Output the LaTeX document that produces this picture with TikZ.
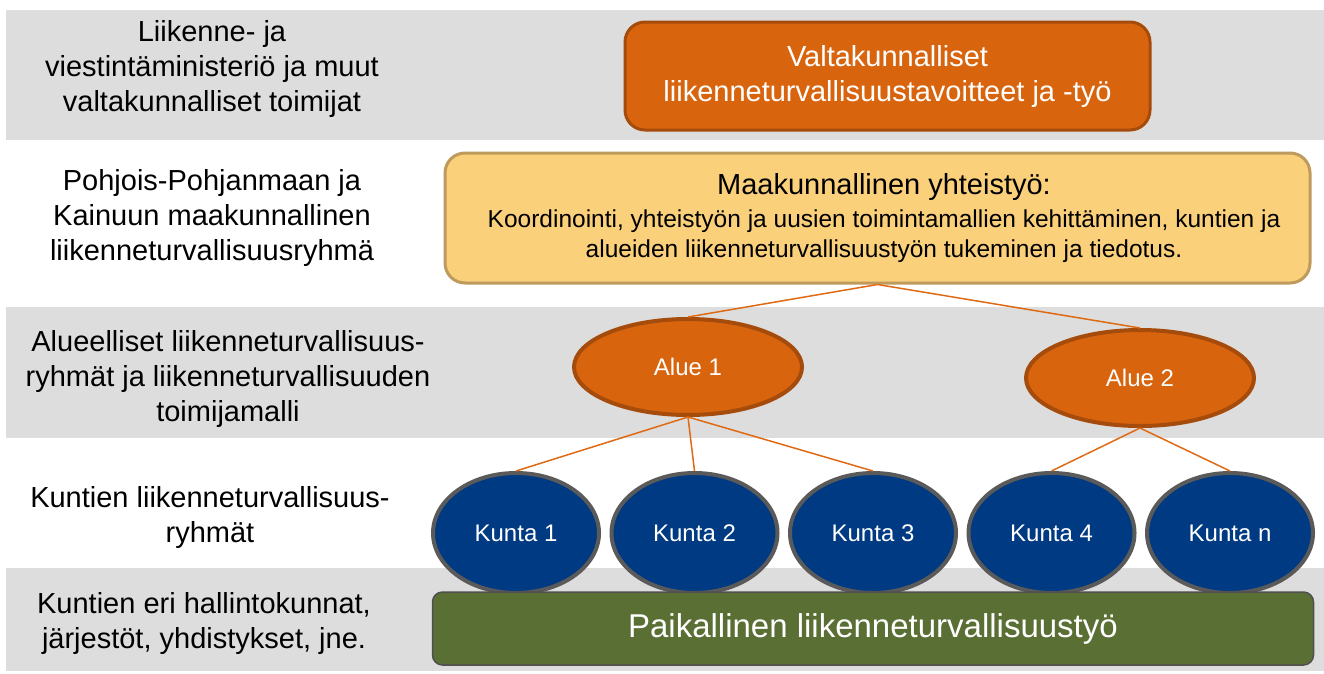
\documentclass[tikz,border=0pt]{standalone}
\usepackage{fontspec}
\setmainfont{Liberation Sans}
\usetikzlibrary{shapes.geometric}
\definecolor{bandgray}{HTML}{DDDDDD}
\definecolor{orfill}{HTML}{D9640E}
\definecolor{ordraw}{HTML}{A54B0C}
\definecolor{yelfill}{HTML}{FAD07B}
\definecolor{yeldraw}{HTML}{BE9A5C}
\definecolor{navy}{HTML}{003A82}
\definecolor{navydraw}{HTML}{5A5A5A}
\definecolor{grnfill}{HTML}{5A6F34}
\definecolor{grndraw}{HTML}{4F4F4F}
\definecolor{conn}{HTML}{E06A14}
\tikzset{
  lbl/.style={align=center, inner sep=0pt, font=\fontsize{29}{35}\selectfont, text=black},
  obox/.style={draw=ordraw, fill=orfill, line width=3pt, rounded corners=20pt, align=center,
     text=white, font=\fontsize{29}{35}\selectfont, inner sep=0pt},
  ybox/.style={draw=yeldraw, fill=yelfill, line width=3pt, rounded corners=20pt, inner sep=0pt},
  alue/.style={ellipse, draw=ordraw, fill=orfill, line width=4pt, inner sep=0pt,
     minimum width=228pt, minimum height=96pt, text=white, font=\fontsize{24}{28}\selectfont},
  kunta/.style={ellipse, draw=navydraw, fill=navy, line width=4pt, inner sep=0pt,
     minimum width=166pt, minimum height=120pt, text=white, font=\fontsize{24}{28}\selectfont},
  gbox/.style={draw=grndraw, fill=grnfill, line width=1.5pt, rounded corners=10pt, inner sep=0pt,
     text=white, font=\fontsize{33}{38}\selectfont},
  link/.style={draw=conn, line width=1.5pt}
}
\begin{document}
\begin{tikzpicture}[x=1pt,y=-1pt]
\useasboundingbox (0,0) rectangle (1324,673);
% bands
\fill[bandgray] (6,10) rectangle (1324,140);
\fill[bandgray] (6,307) rectangle (1324,438);
\fill[bandgray] (6,568) rectangle (1324,671);
% left labels
\node[lbl] (l1) at (212,69) {Liikenne- ja\\viestintäministeriö ja muut\\valtakunnalliset toimijat};
\node[lbl] (l2) at (212,218) {Pohjois-Pohjanmaan ja\\Kainuun maakunnallinen\\liikenneturvallisuusryhmä};
\node[lbl] (l3) at (228,379) {Alueelliset liikenneturvallisuus-\\ryhmät ja liikenneturvallisuuden\\toimijamalli};
\node[lbl] (l4) at (210,517) {Kuntien liikenneturvallisuus-\\ryhmät};
\node[lbl] (l5) at (204,623) {Kuntien eri hallintokunnat,\\järjestöt, yhdistykset, jne.};
% top box
\node[obox, minimum width=525pt, minimum height=108pt] (vk) at (887.5,76)
  {Valtakunnalliset\\liikenneturvallisuustavoitteet ja -työ};
% yellow box
\node[ybox, minimum width=865pt, minimum height=130pt] (mk) at (877.5,218) {};
\node[inner sep=0pt, font=\fontsize{29}{34}\selectfont] (mkt) at (884,187) {Maakunnallinen yhteistyö:};
\node[inner sep=0pt, align=center, font=\fontsize{24.5}{30}\selectfont] (mkb) at (884,236)
  {Koordinointi, yhteistyön ja uusien toimintamallien kehittäminen, kuntien ja\\alueiden liikenneturvallisuustyön tukeminen ja tiedotus.};
% alue
\node[alue] (a1) at (688,367) {Alue 1};
\node[alue] (a2) at (1140,378) {Alue 2};
% kunta
\node[kunta] (k1) at (516,533) {Kunta 1};
\node[kunta] (k2) at (694.5,533) {Kunta 2};
\node[kunta] (k3) at (873,533) {Kunta 3};
\node[kunta] (k4) at (1051.5,533) {Kunta 4};
\node[kunta] (k5) at (1230,533) {Kunta n};
% green
\node[gbox, minimum width=881pt, minimum height=73pt] (pk) at (873,628.5) {Paikallinen liikenneturvallisuustyö};
% connectors
\draw[link] (mk.south) -- (a1.north);
\draw[link] (mk.south) -- (a2.north);
\draw[link] (a1.south) -- (k1.north);
\draw[link] (a1.south) -- (k2.north);
\draw[link] (a1.south) -- (k3.north);
\draw[link] (a2.south) -- (k4.north);
\draw[link] (a2.south) -- (k5.north);
\end{tikzpicture}
\end{document}
